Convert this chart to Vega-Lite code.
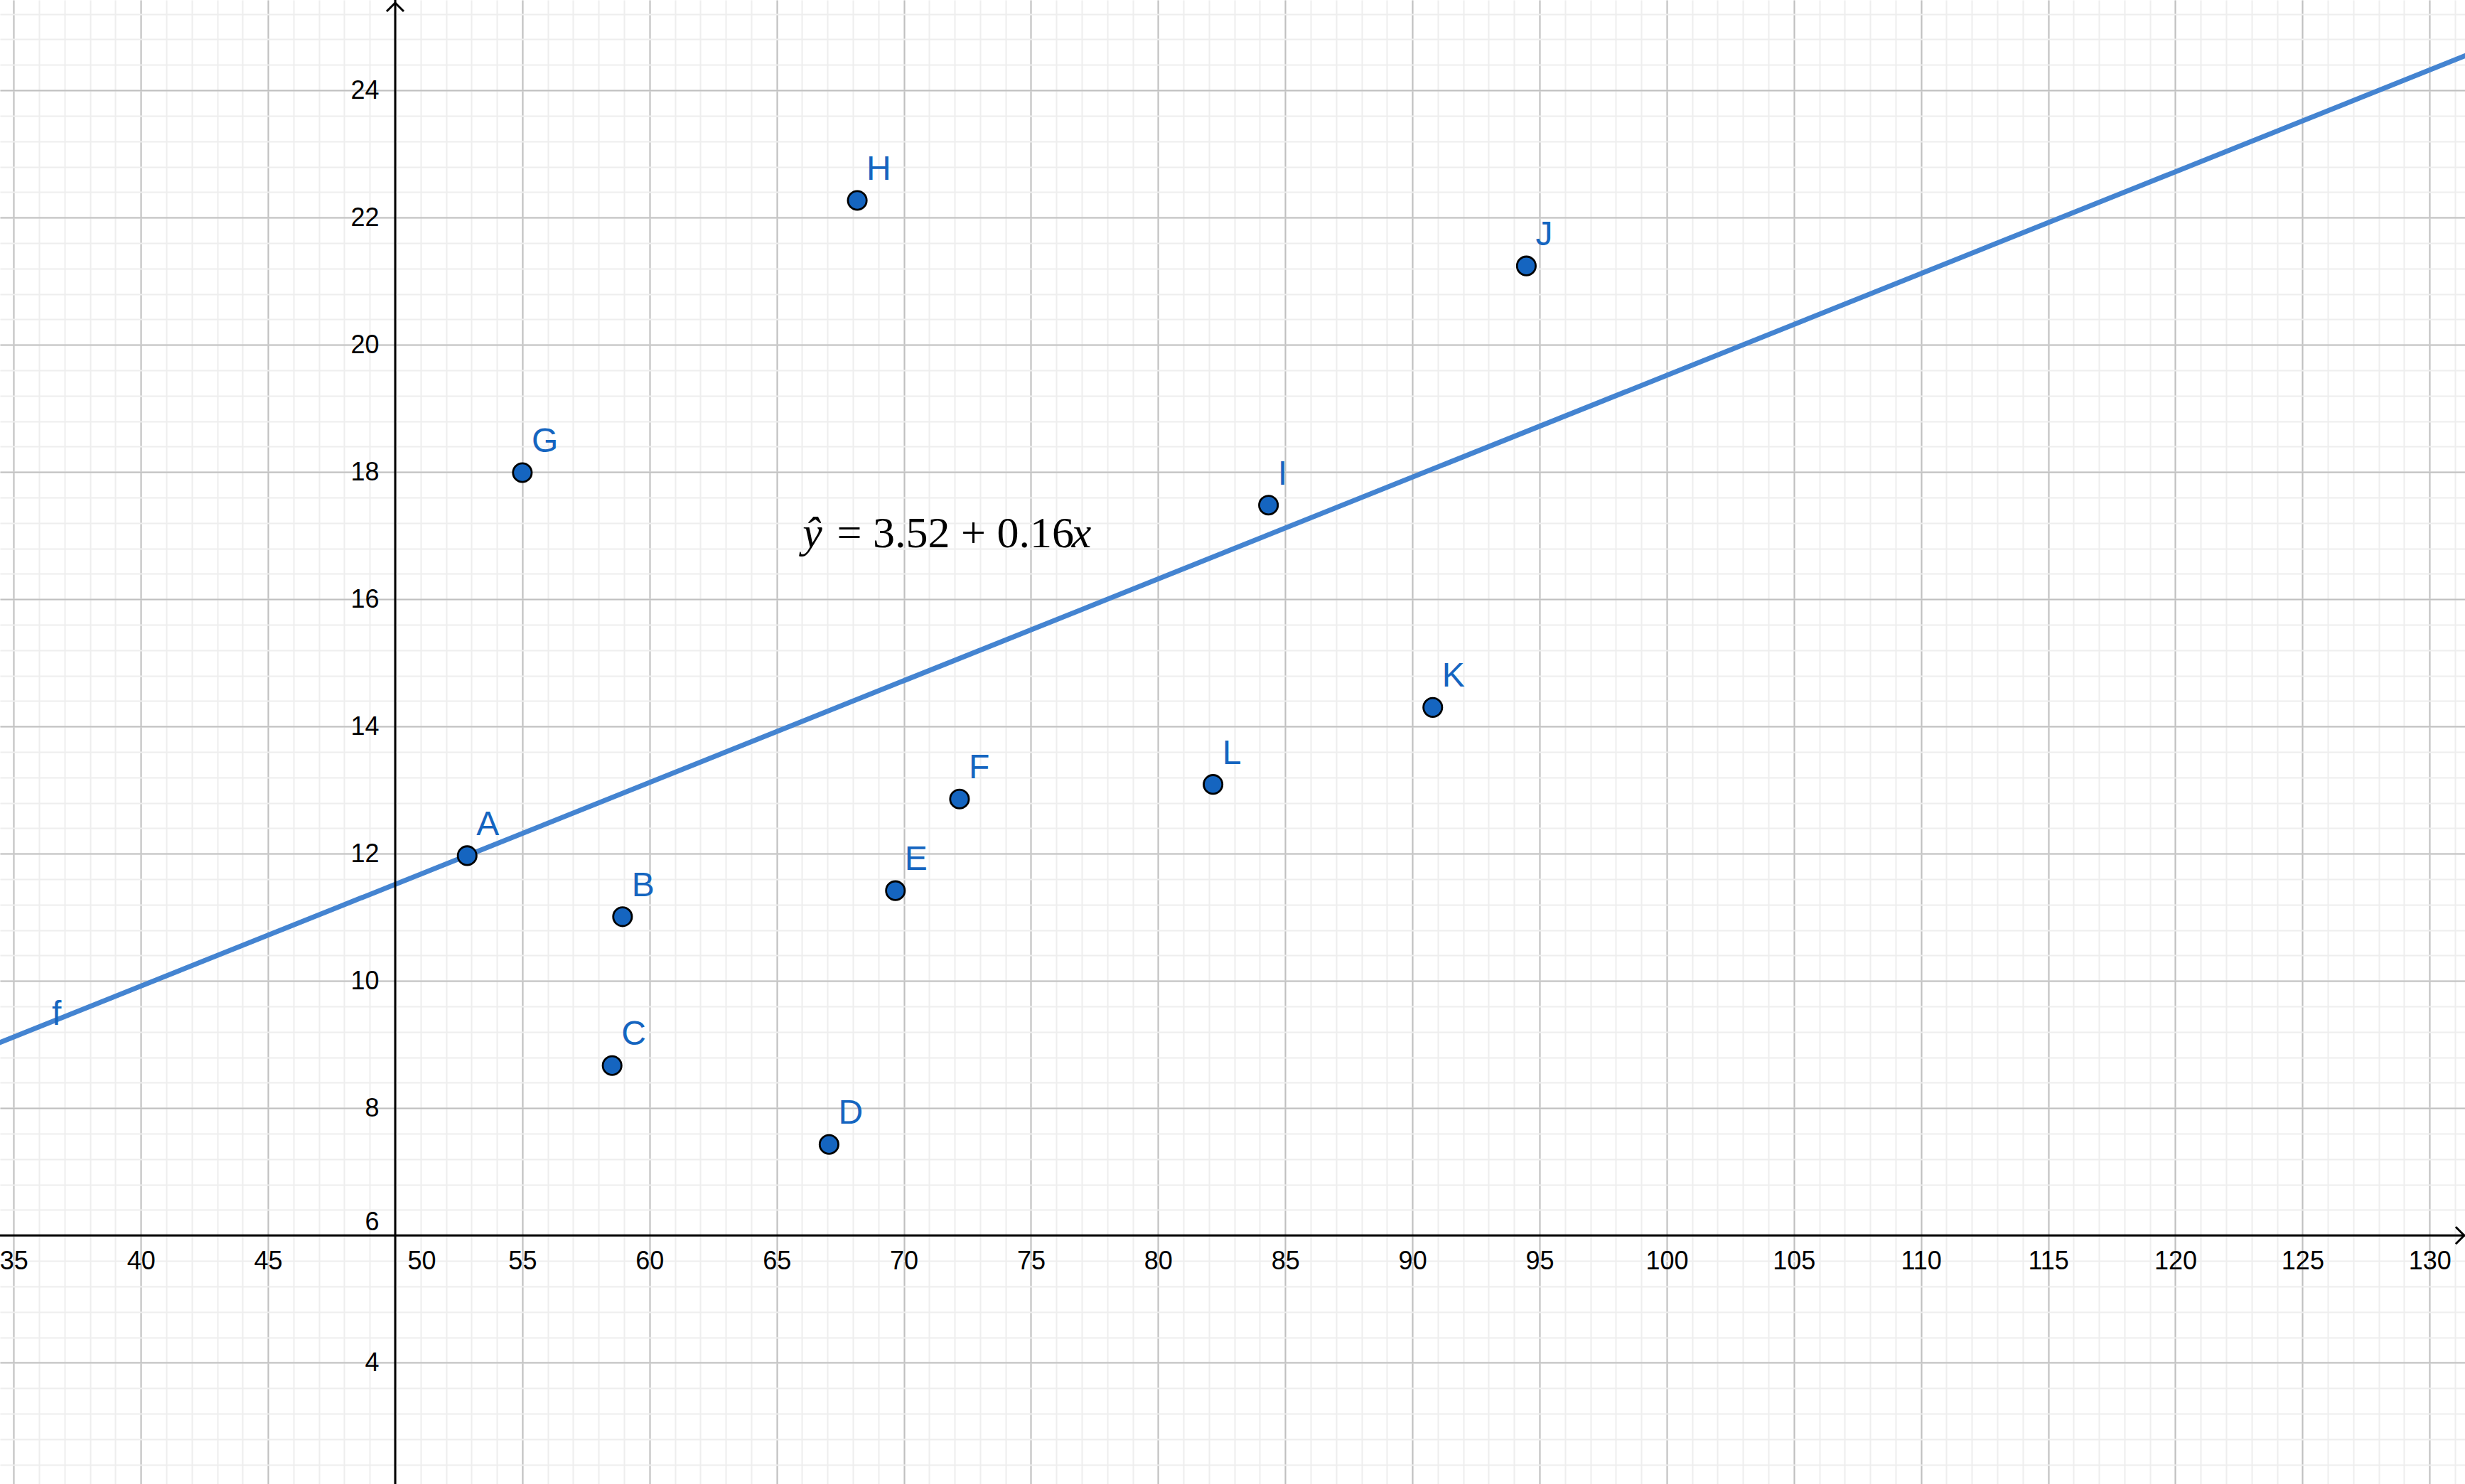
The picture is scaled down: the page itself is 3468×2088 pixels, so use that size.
{
  "$schema": "https://vega.github.io/schema/vega-lite/v6.json",
  "width": 3468,
  "height": 2088,
  "autosize": {"type": "none"},
  "padding": 0,
  "background": "#ffffff",
  "config": {"view": {"stroke": null}},
  "datasets": {
    "pts": [
      {"name": "A", "x": 52.83, "y": 11.97},
      {"name": "B", "x": 58.94, "y": 11.01},
      {"name": "C", "x": 58.53, "y": 8.67},
      {"name": "D", "x": 67.06, "y": 7.43},
      {"name": "E", "x": 69.67, "y": 11.42},
      {"name": "F", "x": 72.19, "y": 12.86},
      {"name": "G", "x": 55.0, "y": 17.99},
      {"name": "H", "x": 68.17, "y": 22.27},
      {"name": "I", "x": 84.34, "y": 17.48},
      {"name": "J", "x": 94.48, "y": 21.24},
      {"name": "K", "x": 90.8, "y": 14.3},
      {"name": "L", "x": 82.16, "y": 13.09}
    ],
    "fit": [{"x": 34, "y": 8.96}, {"x": 132, "y": 24.64}],
    "flabel": [{"label": "f", "x": 36.5, "y": 9.31}],
    "eq": [{"x": 66.02, "y": 16.82}],
    "axes": [{"x": 50, "y": 6}],
    "arrows": [{"x": 50, "y": 25.375, "dir": "up"}, {"x": 131.36, "y": 6, "dir": "right"}]
  },
  "layer": [
    {
      "data": {"name": "fit"},
      "mark": {"type": "line", "color": "#4484d1", "strokeWidth": 7, "clip": true},
      "encoding": {
        "x": {"field": "x", "type": "quantitative",
          "scale": {"domain": [34.46, 131.39], "nice": false, "zero": false},
          "axis": {"orient": "bottom", "title": null, "grid": true, "gridColor": "#eeeeee", "gridWidth": 2, "labels": false, "ticks": false, "domain": false,
            "values": [35,36,37,38,39,40,41,42,43,44,45,46,47,48,49,50,51,52,53,54,55,56,57,58,59,60,61,62,63,64,65,66,67,68,69,70,71,72,73,74,75,76,77,78,79,80,81,82,83,84,85,86,87,88,89,90,91,92,93,94,95,96,97,98,99,100,101,102,103,104,105,106,107,108,109,110,111,112,113,114,115,116,117,118,119,120,121,122,123,124,125,126,127,128,129,130,131]}},
        "y": {"field": "y", "type": "quantitative",
          "scale": {"domain": [2.093, 25.42], "nice": false, "zero": false},
          "axis": {"orient": "left", "title": null, "grid": true, "gridColor": "#eeeeee", "gridWidth": 2, "labels": false, "ticks": false, "domain": false,
            "values": [2.4,2.8,3.2,3.6,4.0,4.4,4.8,5.2,5.6,6.0,6.4,6.8,7.2,7.6,8.0,8.4,8.8,9.2,9.6,10.0,10.4,10.8,11.2,11.6,12.0,12.4,12.8,13.2,13.6,14.0,14.4,14.8,15.2,15.6,16.0,16.4,16.8,17.2,17.6,18.0,18.4,18.8,19.2,19.6,20.0,20.4,20.8,21.2,21.6,22.0,22.4,22.8,23.2,23.6,24.0,24.4,24.8,25.2]}}
      }
    },
    {
      "data": {"name": "pts"},
      "mark": {"type": "point", "shape": "circle", "filled": true, "fill": "#1565c0", "stroke": "#000000", "strokeWidth": 2.8, "size": 690, "opacity": 1},
      "encoding": {
        "x": {"field": "x", "type": "quantitative",
          "scale": {"domain": [34.46, 131.39], "nice": false, "zero": false},
          "axis": {"orient": "bottom", "offset": -350, "title": null, "grid": true, "gridColor": "#c0c0c0", "gridWidth": 2, "domain": false, "ticks": false, "tickSize": 0,
            "values": [35,40,45,50,55,60,65,70,75,80,85,90,95,100,105,110,115,120,125,130],
            "labelFont": "Liberation Sans", "labelFontSize": 36, "labelColor": "#000000", "labelPadding": 19, "labelFlush": false, "labelOverlap": false, "labelBound": false,
            "labelOffset": {"condition": {"test": "datum.value == 50", "value": 37}, "value": 0}}},
        "y": {"field": "y", "type": "quantitative",
          "scale": {"domain": [2.093, 25.42], "nice": false, "zero": false},
          "axis": {"orient": "left", "offset": -556, "title": null, "grid": true, "gridColor": "#c0c0c0", "gridWidth": 2, "domain": false, "ticks": false, "tickSize": 0,
            "values": [4,6,8,10,12,14,16,18,20,22,24],
            "labelFont": "Liberation Sans", "labelFontSize": 36, "labelColor": "#000000", "labelPadding": 23, "labelFlush": false, "labelOverlap": false, "labelBound": false,
            "labelOffset": {"condition": {"test": "datum.value == 6", "value": -19}, "value": 0}}}
      }
    },
    {
      "data": {"name": "axes"},
      "mark": {"type": "rule", "color": "#000000", "strokeWidth": 3},
      "encoding": {"x": {"field": "x", "type": "quantitative", "axis": null}}
    },
    {
      "data": {"name": "axes"},
      "mark": {"type": "rule", "color": "#000000", "strokeWidth": 3},
      "encoding": {"y": {"field": "y", "type": "quantitative", "axis": null}}
    },
    {
      "data": {"name": "arrows"},
      "mark": {"type": "point", "filled": false, "stroke": "#000000", "strokeWidth": 3, "size": 576, "opacity": 1},
      "encoding": {
        "x": {"field": "x", "type": "quantitative", "axis": null},
        "y": {"field": "y", "type": "quantitative", "axis": null},
        "shape": {"field": "dir", "type": "nominal", "legend": null,
          "scale": {"domain": ["up", "right"], "range": ["M-1,1L0,0L1,1", "M-1,-1L0,0L-1,1"]}}
      }
    },
    {
      "data": {"name": "pts"},
      "mark": {"type": "text", "align": "left", "baseline": "alphabetic", "dx": 13, "dy": -29, "font": "Liberation Sans", "fontSize": 48, "color": "#1565c0"},
      "encoding": {
        "x": {"field": "x", "type": "quantitative", "axis": null},
        "y": {"field": "y", "type": "quantitative", "axis": null},
        "text": {"field": "name"}
      }
    },
    {
      "data": {"name": "flabel"},
      "mark": {"type": "text", "align": "left", "baseline": "alphabetic", "font": "Liberation Sans", "fontSize": 48, "color": "#1565c0"},
      "encoding": {
        "x": {"field": "x", "type": "quantitative", "axis": null},
        "y": {"field": "y", "type": "quantitative", "axis": null},
        "text": {"field": "label"}
      }
    },
    {
      "data": {"name": "eq"},
      "mark": {"type": "text", "align": "left", "baseline": "alphabetic", "font": "Liberation Serif", "fontStyle": "italic", "fontSize": 62, "color": "#000000", "text": "ŷ"},
      "encoding": {
        "x": {"field": "x", "type": "quantitative", "axis": null},
        "y": {"field": "y", "type": "quantitative", "axis": null}
      }
    },
    {
      "data": {"name": "eq"},
      "mark": {"type": "text", "align": "center", "baseline": "alphabetic", "dx": 215, "font": "Liberation Serif", "fontSize": 62, "color": "#000000", "text": "= 3.52 + 0.16"},
      "encoding": {
        "x": {"field": "x", "type": "quantitative", "axis": null},
        "y": {"field": "y", "type": "quantitative", "axis": null}
      }
    },
    {
      "data": {"name": "eq"},
      "mark": {"type": "text", "align": "right", "baseline": "alphabetic", "dx": 406, "font": "Liberation Serif", "fontStyle": "italic", "fontSize": 62, "color": "#000000", "text": "x"},
      "encoding": {
        "x": {"field": "x", "type": "quantitative", "axis": null},
        "y": {"field": "y", "type": "quantitative", "axis": null}
      }
    }
  ],
  "resolve": {"axis": {"x": "independent", "y": "independent"}}
}
